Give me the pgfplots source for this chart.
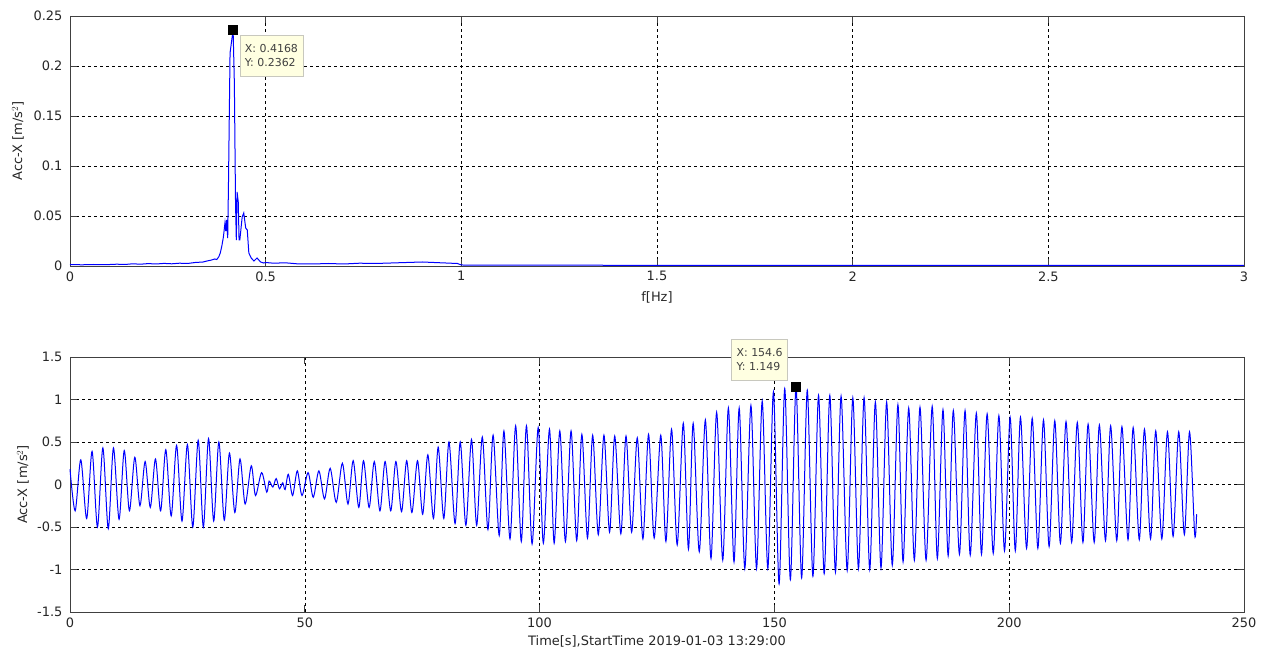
\documentclass[border=0pt]{standalone}
\usepackage{fontspec}
\setmainfont{DejaVu Sans}
\usepackage{pgfplots}
\pgfplotsset{compat=1.18}
\definecolor{tipbg}{RGB}{255,255,225}
\definecolor{tipbd}{RGB}{200,200,190}
\tikzset{datatip/.style={draw=tipbd, fill=tipbg, text=black!75, align=left,
    font=\fontsize{11}{14}\selectfont, inner xsep=5bp, inner ysep=4bp,
    minimum height=41bp, line width=0.7bp}}
\begin{document}
\begin{tikzpicture}
\useasboundingbox (0bp,0bp) rectangle (1264bp,651bp);
\pgfplotsset{
  mystyle/.style={
    scale only axis, width=1174bp,
    xmajorgrids, ymajorgrids,
    major grid style={black, dash pattern=on 3bp off 3bp, line width=0.6bp},
    axis line style={black!75, line width=0.8bp},
    tick style={black!75, line width=0.8bp},
    major tick length=7bp,
    tick align=inside,
    xtick pos=both, ytick pos=both,
    tick label style={font=\fontsize{13}{15}\selectfont, text=black!85},
    label style={font=\fontsize{13}{15}\selectfont, text=black!85},
    xticklabel style={yshift=-2bp},
    yticklabel style={xshift=-4bp},
    clip=false,
  },
}
% ---------------- top: spectrum
\begin{axis}[mystyle, at={(70bp,385bp)}, anchor=south west, height=250bp,
  xmin=0, xmax=3, ymin=0, ymax=0.25,
  xtick={0,0.5,1,1.5,2,2.5,3}, xticklabels={0,0.5,1,1.5,2,2.5,3},
  ytick={0,0.05,0.1,0.15,0.2,0.25}, yticklabels={0,0.05,0.1,0.15,0.2,0.25},
  xlabel={f[Hz]}, ylabel={Acc-X [m/s$^2$]},
  ylabel style={at={(axis description cs:0,0.5)}, anchor=center, yshift=52bp},
  xlabel style={at={(axis description cs:0.5,0)}, anchor=center, yshift=-31bp}]
\addplot[blue, line width=1bp] coordinates {
(0,0.0015) (0.03,0.0012) (0.06,0.0015) (0.09,0.0013) (0.12,0.0018) (0.14,0.0015)
(0.16,0.0022) (0.18,0.0018) (0.2,0.0024) (0.22,0.0020) (0.24,0.0026) (0.26,0.0022)
(0.28,0.0028) (0.30,0.0025) (0.32,0.0035) (0.34,0.0040) (0.35,0.0050) (0.36,0.0058)
(0.37,0.0070) (0.375,0.0065) (0.38,0.0090) (0.384,0.0130) (0.388,0.0200) (0.392,0.0290)
(0.396,0.0430) (0.398,0.0350) (0.400,0.0460) (0.403,0.0280) (0.405,0.0830) (0.409,0.2130)
(0.4168,0.2362) (0.420,0.1830) (0.423,0.0630) (0.425,0.0260) (0.427,0.0740) (0.430,0.0640)
(0.432,0.0260) (0.434,0.0260) (0.440,0.0490) (0.444,0.0530) (0.449,0.0380) (0.453,0.0360)
(0.457,0.0130) (0.463,0.0080) (0.470,0.0050) (0.478,0.0080) (0.487,0.0040) (0.495,0.0030)
(0.50,0.0035) (0.52,0.0028) (0.55,0.0032) (0.58,0.0022) (0.62,0.0020) (0.66,0.0025)
(0.70,0.0020) (0.74,0.0028) (0.78,0.0025) (0.82,0.0030) (0.86,0.0035) (0.90,0.0040)
(0.93,0.0035) (0.96,0.0030) (0.99,0.0025) (1.0,0.0010) (1.2,0.0008) (1.5,0.0007)
(2.0,0.0006) (2.5,0.0006) (3.0,0.0006)
};
\addplot[only marks, mark=square*, mark size=4.5bp, black] coordinates {(0.4168,0.2362)};
\node[datatip, anchor=north west] at ([shift={(6.5bp,-5bp)}]axis cs:0.4168,0.2362) {X: 0.4168\\Y: 0.2362};
\end{axis}
% ---------------- bottom: time history
\begin{axis}[mystyle, at={(70bp,39bp)}, anchor=south west, height=255bp,
  xmin=0, xmax=250, ymin=-1.5, ymax=1.5,
  xtick={0,50,100,150,200,250}, xticklabels={0,50,100,150,200,250},
  ytick={-1.5,-1,-0.5,0,0.5,1,1.5}, yticklabels={-1.5,-1,-0.5,0,0.5,1,1.5},
  xlabel={Time[s],StartTime 2019-01-03 13:29:00}, ylabel={Acc-X [m/s$^2$]},
  ylabel style={at={(axis description cs:0,0.5)}, anchor=center, yshift=47bp},
  xlabel style={at={(axis description cs:0.5,0)}, anchor=center, yshift=-29bp}]
\addplot[blue, line width=1bp, smooth, tension=0.5] coordinates {
(0.0,0.18) (1.1,-0.31) (2.3,0.29) (3.55,-0.40) (4.7,0.39) (5.85,-0.50) (7.0,0.43) (8.15,-0.52)
(9.25,0.43) (10.45,-0.41) (11.55,0.40) (12.65,-0.31) (13.8,0.32) (14.9,-0.25) (16.0,0.27)
(17.1,-0.27) (18.2,0.30) (19.3,-0.31) (20.4,0.41) (21.55,-0.37) (22.7,0.46) (23.85,-0.43)
(25.0,0.47) (26.15,-0.50) (27.3,0.52) (28.4,-0.50) (29.5,0.54) (30.6,-0.43) (31.7,0.50)
(32.85,-0.42) (33.95,0.37) (35.1,-0.33) (36.2,0.30) (37.3,-0.23) (38.6,0.22) (39.5,-0.13)
(40.8,0.14) (41.9,-0.09) (42.4,0.04) (43.2,-0.03) (43.9,0.07) (44.6,-0.05) (45.3,0.02)
(45.8,-0.06) (46.5,0.12) (47.4,-0.13) (48.4,0.16) (49.4,-0.13) (50.7,0.14) (51.8,-0.15)
(53.0,0.16) (54.2,-0.17) (55.4,0.19) (56.7,-0.21) (58.0,0.25) (59.2,-0.23) (60.3,0.28)
(61.5,-0.27) (62.5,0.28) (63.7,-0.27) (64.8,0.27) (66.0,-0.31) (67.1,0.27) (68.3,-0.31)
(69.4,0.27) (70.6,-0.32) (71.7,0.28) (72.8,-0.33) (74.0,0.28) (75.1,-0.35) (76.2,0.35)
(77.4,-0.40) (78.4,0.44) (79.6,-0.40) (80.7,0.50) (82.0,-0.46) (83.1,0.50) (84.3,-0.48)
(85.5,0.53) (86.6,-0.48) (87.8,0.56) (89.0,-0.53) (90.1,0.58) (91.4,-0.60) (92.4,0.63)
(93.7,-0.64) (94.9,0.69) (96.1,-0.67) (97.2,0.69) (98.4,-0.70) (99.7,0.67) (100.8,-0.69)
(102.1,0.65) (103.1,-0.69) (104.3,0.63) (105.5,-0.67) (106.7,0.63) (107.9,-0.66) (109.0,0.59)
(110.2,-0.63) (111.3,0.58) (112.5,-0.59) (113.7,0.58) (114.9,-0.56) (116.0,0.57) (117.3,-0.58)
(118.4,0.57) (119.6,-0.56) (120.8,0.55) (122.0,-0.64) (123.2,0.59) (124.4,-0.63) (125.8,0.58)
(126.9,-0.67) (128.1,0.65) (129.3,-0.71) (130.6,0.72) (131.7,-0.76) (132.7,0.72) (134.0,-0.79)
(135.3,0.76) (136.5,-0.87) (137.7,0.85) (139.0,-0.89) (140.2,0.90) (141.4,-0.91) (142.5,0.90)
(143.7,-0.99) (145.0,0.93) (146.2,-0.99) (147.4,0.98) (148.6,-0.99) (149.8,1.09) (151.0,-1.17)
(152.2,1.13) (153.4,-1.12) (154.6,1.149) (155.8,-1.10) (157.0,1.11) (158.2,-1.08) (159.4,1.05)
(160.6,-1.05) (161.8,1.05) (163.0,-1.03) (164.2,1.04) (165.5,-1.01) (166.7,1.02) (167.9,-0.99)
(169.1,1.02) (170.3,-1.00) (171.5,0.97) (172.7,-0.98) (173.9,0.97) (175.1,-0.95) (176.3,0.94)
(177.4,-0.91) (178.6,0.90) (179.8,-0.89) (181.0,0.91) (182.3,-0.89) (183.6,0.92) (184.7,-0.87)
(185.9,0.88) (187.0,-0.84) (188.1,0.87) (189.4,-0.82) (190.6,0.87) (191.7,-0.83) (193.0,0.84)
(194.1,-0.82) (195.3,0.83) (196.6,-0.81) (197.8,0.81) (199.0,-0.78) (200.2,0.79) (201.3,-0.78)
(202.4,0.79) (203.7,-0.75) (204.9,0.78) (206.1,-0.75) (207.3,0.76) (208.5,-0.73) (209.7,0.75)
(210.9,-0.69) (212.1,0.74) (213.3,-0.68) (214.5,0.73) (215.7,-0.68) (216.8,0.71) (218.1,-0.68)
(219.2,0.70) (220.5,-0.66) (221.6,0.69) (222.9,-0.66) (224.0,0.68) (225.3,-0.65) (226.4,0.67)
(227.7,-0.65) (228.8,0.65) (230.1,-0.64) (231.2,0.63) (232.5,-0.64) (233.7,0.62) (234.9,-0.61)
(236.1,0.62) (237.3,-0.59) (238.4,0.62) (239.5,-0.59) (239.9,-0.35)
};
\addplot[only marks, mark=square*, mark size=4.5bp, black] coordinates {(154.6,1.149)};
\node[datatip, anchor=south east] at ([shift={(-8bp,6bp)}]axis cs:154.6,1.149) {X: 154.6\\Y: 1.149};
\end{axis}
\end{tikzpicture}
\end{document}
